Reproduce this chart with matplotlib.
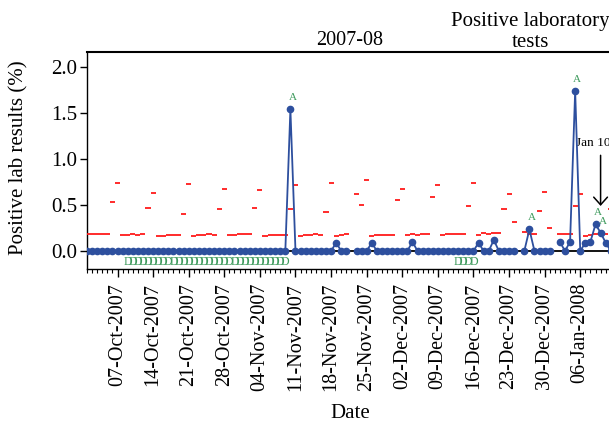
import numpy as np
import matplotlib
matplotlib.use("Agg")
import matplotlib.pyplot as plt
import matplotlib.dates as mdates

nan = np.nan

# ---------------- data ----------------
first_day = "2007-10-01"
last_day = "2008-01-12"

# daily positive lab results (%), Mon..Sun per row, NaN = no data (holidays)
positive = [
    0, 0, 0, 0, 0, 0, 0,            # Oct 01 - Oct 07
    0, 0, 0, 0, 0, 0, 0,            # Oct 08 - Oct 14
    0, 0, 0, 0, 0, 0, 0,            # Oct 15 - Oct 21
    0, 0, 0, 0, 0, 0, 0,            # Oct 22 - Oct 28
    0, 0, 0, 0, 0, 0, 0,            # Oct 29 - Nov 04
    0, 0, 0, 0, 0, 1.54, 0,         # Nov 05 - Nov 11
    0, 0, 0, 0, 0, 0, 0,            # Nov 12 - Nov 18
    0.09, 0, 0, nan, 0, 0, 0,       # Nov 19 - Nov 25
    0.09, 0, 0, 0, 0, 0, 0,         # Nov 26 - Dec 02
    0, 0.10, 0, 0, 0, 0, 0,         # Dec 03 - Dec 09
    0, 0, 0, 0, 0, 0, 0,            # Dec 10 - Dec 16
    0.09, 0, 0, 0.12, 0, 0, 0,      # Dec 17 - Dec 23
    0, nan, 0, 0.235, 0, 0, 0,      # Dec 24 - Dec 30
    0, nan, 0.10, 0, 0.10, 1.74, 0, # Dec 31 - Jan 06
    0.09, 0.10, 0.29, 0.20, 0.09, 0,  # Jan 07 - Jan 12
]

# daily alert threshold (%)
threshold = [
    0.188, 0.188, 0.188, 0.188, 0.188, 0.535, 0.740,
    0.174, 0.174, 0.188, 0.174, 0.188, 0.464, 0.634,
    0.163, 0.163, 0.174, 0.174, 0.174, 0.400, 0.725,
    0.163, 0.174, 0.174, 0.188, 0.174, 0.453, 0.677,
    0.174, 0.174, 0.188, 0.188, 0.188, 0.464, 0.663,
    0.163, 0.174, 0.174, 0.174, 0.174, 0.453, 0.714,
    0.163, 0.174, 0.174, 0.188, 0.174, 0.424, 0.736,
    0.163, 0.174, 0.188, nan, 0.620, 0.500, 0.775,
    0.163, 0.177, 0.177, 0.177, 0.177, 0.554, 0.674,
    0.177, 0.190, 0.177, 0.190, 0.190, 0.583, 0.717,
    0.170, 0.188, 0.188, 0.188, 0.188, 0.490, 0.736,
    0.174, 0.196, 0.185, 0.196, 0.196, 0.453, 0.616,
    0.310, nan, 0.210, 0.190, 0.190, 0.435, 0.645,
    0.253, nan, 0.180, 0.180, 0.180, 0.490, 0.616,
    0.166, 0.170, 0.180, 0.180, 0.180, 0.460,
]

# days flagged with an alert ("A")
alert_days = ["2007-11-10", "2007-12-27", "2008-01-05", "2008-01-09", "2008-01-10"]
# runs of days flagged "D"
d_runs = [("2007-10-09", "2007-11-09"), ("2007-12-13", "2007-12-16")]

tick_fmt = "%d-%b-%Y"
title = "2007-08"
corner_title = "Positive laboratory\ntests"
y_label = "Positive lab results (%)"
x_label = "Date"
y_ticks = [0.0, 0.5, 1.0, 1.5, 2.0]
note_day = "2008-01-10"
note_text = "Jan 10"

# ---------------- figure ----------------
plt.rcParams["font.family"] = ["Liberation Serif", "DejaVu Serif"]

W, H = 609, 429
fig = plt.figure(figsize=(W / 100, H / 100), dpi=100)
ax_l, ax_r, ax_t, ax_b = 87, 612, 52, 269
ax = fig.add_axes([ax_l / W, 1 - ax_b / H, (ax_r - ax_l) / W, (ax_b - ax_t) / H])

days = np.arange(np.datetime64(first_day), np.datetime64(last_day) + 1)
x = mdates.date2num(days.astype("datetime64[D]").astype(object))
pos = np.array(positive, dtype=float)
thr = np.array(threshold, dtype=float)

blue = "#2d4f9e"
green = "#3d9a5c"
red = "#ff1a1a"

# thresholds as short daily dashes
ok = ~np.isnan(thr)
ax.hlines(thr[ok], x[ok] - 0.5, x[ok] + 0.5, colors=red, lw=1.3, zorder=3)

ax.axhline(0, color="black", lw=1.3, zorder=2)

ax.plot(x, pos, color=blue, lw=1.3, marker="o", ms=4.5, mfc=blue, mec=blue,
        zorder=4)

# alert labels
for d in alert_days:
    i = int((np.datetime64(d) - np.datetime64(first_day)).astype(int))
    ax.annotate("A", (x[i], pos[i]), xytext=(1.5, 5), textcoords="offset points",
                ha="center", va="bottom", color=green, fontsize=8, zorder=5)

# D markers below the axis
for a, b in d_runs:
    rd = np.arange(np.datetime64(a), np.datetime64(b) + 1)
    for d in rd:
        xd = mdates.date2num(d.astype(object))
        ax.text(xd, -0.12, "D", ha="center", va="center", color=green,
                fontsize=8.5, zorder=5)

# Jan 10 arrow
xn = mdates.date2num(np.datetime64(note_day).astype(object))
ax.annotate("", xy=(xn, 0.49), xytext=(xn, 1.04),
            arrowprops=dict(arrowstyle="->,head_length=0.5,head_width=0.45",
                            lw=1.1, color="black", mutation_scale=11,
                            shrinkA=0, shrinkB=0), zorder=6)
ax.text(xn - 1.5, 1.17, note_text, ha="center", va="center", fontsize=9.5)

# axes
ax.set_xlim(x[0], x[0] + (ax_r - ax_l) / 5.085)
ax.set_ylim(-(ax_b - 251) / 92.0, (251 - ax_t) / 92.0)
ax.set_yticks(y_ticks)
ax.set_yticklabels([f"{v:.1f}" for v in y_ticks])

ax.xaxis.set_major_locator(mdates.WeekdayLocator(byweekday=mdates.SU))
ax.xaxis.set_minor_locator(mdates.DayLocator())
ax.xaxis.set_major_formatter(mdates.DateFormatter(tick_fmt))
plt.setp(ax.get_xticklabels(), rotation=90)

ax.tick_params(axis="x", which="major", length=6, width=1, labelsize=14.5, pad=4)
ax.tick_params(axis="x", which="minor", length=3, width=0.8)
ax.tick_params(axis="y", which="major", length=5, width=1, labelsize=15, pad=2)

ax.spines["right"].set_visible(False)
ax.spines["top"].set_linewidth(1.5)
ax.spines["left"].set_linewidth(1.0)
ax.spines["bottom"].set_linewidth(1.0)

ax.set_title(title, fontsize=14.5, pad=5)
fig.text(530 / W, 1 - 32 / H, corner_title, ha="center", va="center",
         fontsize=15, linespacing=1.12)

ax.set_ylabel(y_label, fontsize=15)
ax.yaxis.set_label_coords((28 - ax_l) / (ax_r - ax_l), (ax_b - 158) / (ax_b - ax_t))
ax.set_xlabel(x_label, fontsize=15)
ax.xaxis.set_label_coords((350 - ax_l) / (ax_r - ax_l), (ax_b - 404) / (ax_b - ax_t))

fig.savefig("out.png", dpi=100)
